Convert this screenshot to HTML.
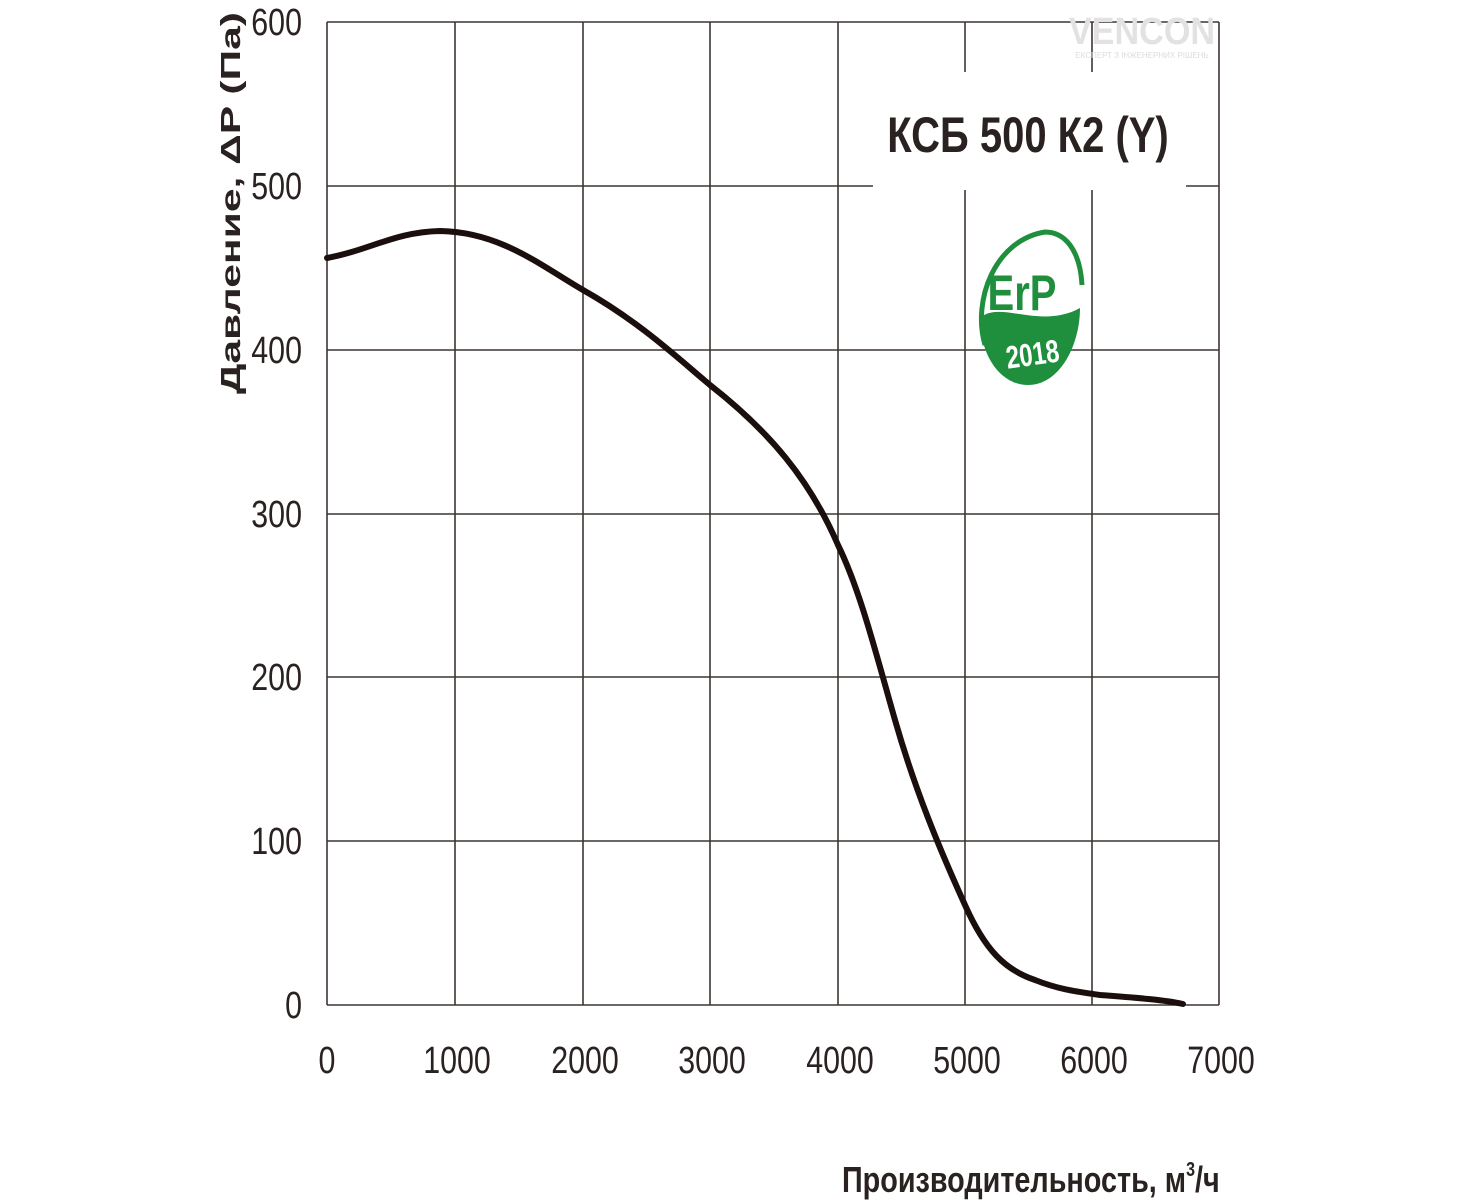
<!DOCTYPE html>
<html><head><meta charset="utf-8"><style>
html,body{margin:0;padding:0;background:#fff;}
svg{display:block}
text{font-family:"Liberation Sans","Noto Sans CJK SC",sans-serif;fill:#2a2220}
</style></head><body>
<svg width="1467" height="1200" viewBox="0 0 1467 1200" xmlns="http://www.w3.org/2000/svg">
<g stroke="#3d3533" stroke-width="1.6" fill="none">
<line x1="327" y1="22" x2="1219" y2="22"/>
<line x1="327" y1="186" x2="873" y2="186"/><line x1="1186" y1="186" x2="1219" y2="186"/>
<line x1="327" y1="350" x2="1219" y2="350"/>
<line x1="327" y1="514" x2="1219" y2="514"/>
<line x1="327" y1="677" x2="1219" y2="677"/>
<line x1="327" y1="841" x2="1219" y2="841"/>
<line x1="327" y1="1005" x2="1219" y2="1005"/>
<line x1="327" y1="22" x2="327" y2="1005"/>
<line x1="455" y1="22" x2="455" y2="1005"/>
<line x1="583" y1="22" x2="583" y2="1005"/>
<line x1="710" y1="22" x2="710" y2="1005"/>
<line x1="838" y1="22" x2="838" y2="1005"/>
<line x1="965" y1="22" x2="965" y2="72"/><line x1="965" y1="190" x2="965" y2="1005"/>
<line x1="1092" y1="22" x2="1092" y2="72"/><line x1="1092" y1="190" x2="1092" y2="1005"/>
<line x1="1219" y1="22" x2="1219" y2="1005"/>
</g>
<path d="M327,258 C370,250 395,232 440,231 C500,232 540,265 583,290 C640,322 680,360 710,385 C770,432 810,480 838,545 C860,590 875,650 895,720 C915,790 940,850 965,905 C985,950 1005,970 1035,980 C1060,990 1080,992 1100,995 C1140,998 1165,1000 1183,1004" fill="none" stroke="#1a0f0c" stroke-width="6" stroke-linecap="round"/>
<g font-size="38" text-anchor="end">
<text x="302" y="35" transform="scale(0.8,1) translate(75.5,0)">600</text>
<text x="302" y="199" transform="scale(0.8,1) translate(75.5,0)">500</text>
<text x="302" y="363" transform="scale(0.8,1) translate(75.5,0)">400</text>
<text x="302" y="527" transform="scale(0.8,1) translate(75.5,0)">300</text>
<text x="302" y="690" transform="scale(0.8,1) translate(75.5,0)">200</text>
<text x="302" y="854" transform="scale(0.8,1) translate(75.5,0)">100</text>
<text x="302" y="1018" transform="scale(0.8,1) translate(75.5,0)">0</text>
</g>
<g font-size="38" text-anchor="middle">
<text transform="translate(327,1073) scale(0.8,1)">0</text>
<text transform="translate(457,1073) scale(0.8,1)">1000</text>
<text transform="translate(585,1073) scale(0.8,1)">2000</text>
<text transform="translate(712,1073) scale(0.8,1)">3000</text>
<text transform="translate(840,1073) scale(0.8,1)">4000</text>
<text transform="translate(967,1073) scale(0.8,1)">5000</text>
<text transform="translate(1094,1073) scale(0.8,1)">6000</text>
<text transform="translate(1221,1073) scale(0.8,1)">7000</text>
</g>
<text transform="translate(240,394) rotate(-90)" font-size="28" font-weight="bold" textLength="382" lengthAdjust="spacingAndGlyphs">Давление, ΔP (Па)</text>
<text transform="translate(842,1192) scale(0.8,1)" font-size="36" font-weight="bold">Производительность,  м<tspan font-size="20" dy="-16">3</tspan><tspan dy="16">/ч</tspan></text>
<text transform="translate(1028,152) scale(0.8,1)" font-size="50" font-weight="bold" text-anchor="middle">КСБ 500 К2 (Y)</text>
<text transform="translate(1142,44) scale(0.9,1)" font-size="38" font-weight="bold" text-anchor="middle" style="fill:#e2e2e2">VENCON</text>
<text x="1142" y="58" font-size="8" text-anchor="middle" style="fill:#dcdcdc">ЕКСПЕРТ З ІНЖЕНЕРНИХ РІШЕНЬ</text>
<path d="M985,345 C972,300 995,240 1045,232 C1065,232 1080,250 1082,285" fill="none" stroke="#1f8f3e" stroke-width="5"/>
<path d="M980,318 C1000,300 1040,330 1080,308 C1080,345 1060,385 1028,385 C1000,385 980,355 980,318 Z" fill="#1f8f3e"/>
<text transform="translate(1022,310) scale(0.8,1)" font-size="50" font-weight="bold" text-anchor="middle" style="fill:#1f8f3e">ErP</text>
<text transform="translate(1034,365) rotate(-8) scale(0.75,1)" font-size="32" font-weight="bold" text-anchor="middle" style="fill:#fff">2018</text>
</svg>
</body></html>
